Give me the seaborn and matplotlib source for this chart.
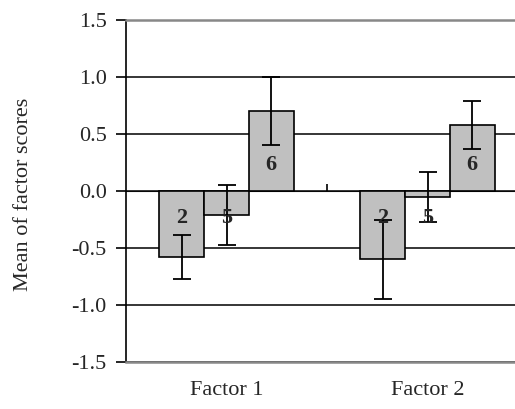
import matplotlib
matplotlib.use("Agg")
import matplotlib.pyplot as plt
import seaborn as sns
import pandas as pd

# Chart data
factors = ["Factor 1", "Factor 2"]
groups = ["2", "5", "6"]
means_f1 = [-0.58, -0.21, 0.70]
means_f2 = [-0.60, -0.05, 0.58]
errs_f1 = [0.19, 0.26, 0.30]
errs_f2 = [0.35, 0.22, 0.21]
y_ticks = [-1.5, -1.0, -0.5, 0.0, 0.5, 1.0, 1.5]

rows = []
for f, means, errs in [(factors[0], means_f1, errs_f1), (factors[1], means_f2, errs_f2)]:
    for g, m, e in zip(groups, means, errs):
        rows.append({"factor": f, "group": g, "mean": m, "err": e})
df = pd.DataFrame(rows)

sns.set_style("white")
plt.rcParams["font.family"] = ["Liberation Serif", "DejaVu Serif"]

fig = plt.figure(figsize=(5.15, 4.09), dpi=100)
ax = fig.add_axes([126 / 515, 47 / 409, 402 / 515, 342 / 409])

sns.barplot(data=df, x="factor", y="mean", hue="group", order=factors,
            hue_order=groups, palette=["#c0c0c0"] * 3, edgecolor="black",
            linewidth=1.2, width=0.667, saturation=1, errorbar=None,
            legend=False, ax=ax)

# Error bars and value labels placed on each bar
for g, container in zip(groups, ax.containers):
    sub = df[df["group"] == g].set_index("factor").loc[factors]
    for bar, (_, r) in zip(container, sub.iterrows()):
        xc = bar.get_x() + bar.get_width() / 2
        ax.errorbar(xc, r["mean"], yerr=r["err"], color="black", lw=1.3,
                    capsize=6.5, capthick=1.3, zorder=4)
        ypos = 0.23 if r["mean"] > 0 else -0.24
        ax.text(xc, ypos, g, ha="center", va="center", fontsize=16,
                fontweight="bold", zorder=5)

ax.set_xlim(-0.5, 1.5)
ax.set_ylim(-1.5, 1.5)
ax.set_yticks(y_ticks)
ax.set_yticklabels([f"{v:.1f}" for v in y_ticks])
ax.set_axisbelow(True)
ax.yaxis.grid(True, color="black", lw=1.1)
ax.xaxis.grid(False)

for side in ["top", "bottom"]:
    ax.spines[side].set_color("#888888")
    ax.spines[side].set_linewidth(1.8)
ax.spines["right"].set_visible(False)
ax.spines["left"].set_color("black")
ax.spines["left"].set_linewidth(1.2)

ax.tick_params(axis="y", which="major", direction="out", length=7, width=1.2,
               color="black", left=True, labelsize=16, pad=7)
ax.tick_params(axis="x", which="major", length=0, labelsize=16, pad=14)
ax.set_xlabel("")
ax.set_ylabel("")

# Category axis crossing at zero with a tick between the groups
zero_axis = ax.secondary_xaxis(0.5)
zero_axis.set_xticks([0.5])
zero_axis.set_xticklabels([""])
zero_axis.tick_params(direction="out", length=5, width=1.2, color="black")
zero_axis.spines["bottom"].set_color("black")
zero_axis.spines["bottom"].set_linewidth(1.2)

fig.text(24 / 515, 1 - 194 / 409, "Mean of factor scores", rotation=90,
         ha="center", va="center", fontsize=16)

fig.savefig("out.png", dpi=100)
